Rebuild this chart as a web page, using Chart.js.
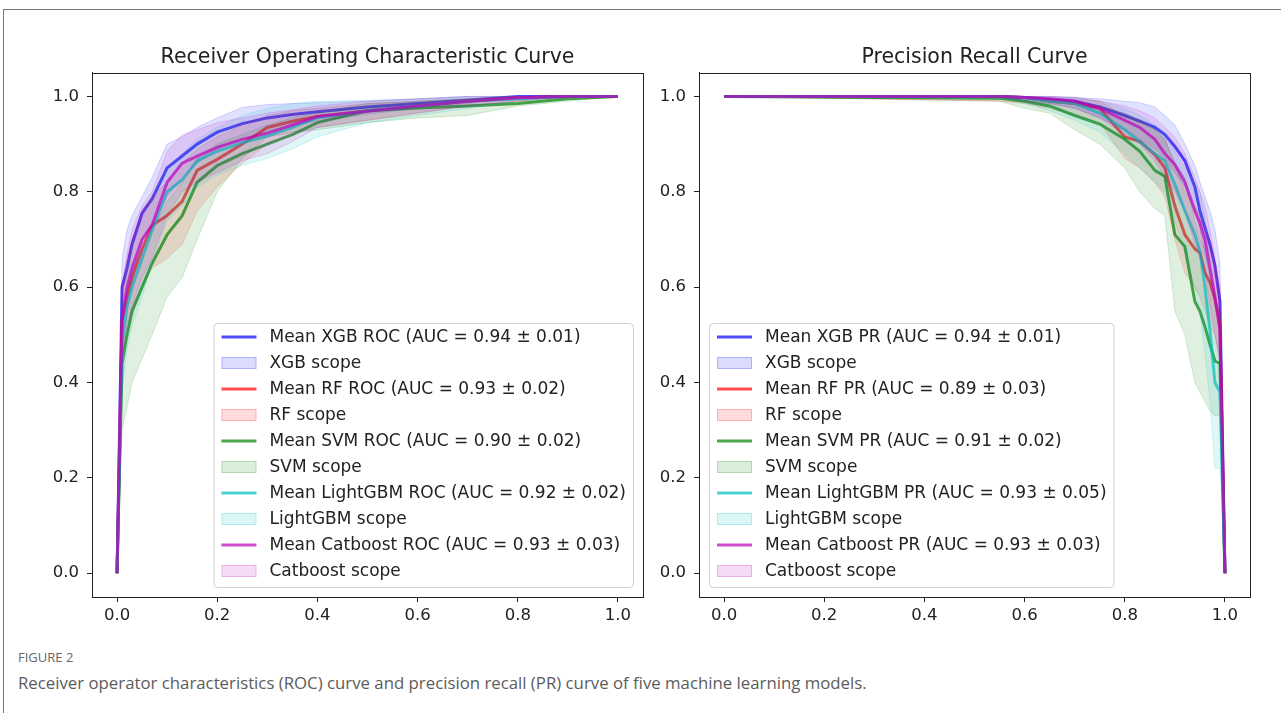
<!DOCTYPE html>
<html>
<head>
    <title>ROC and PR curves</title>
    <script src="https://cdn.jsdelivr.net/npm/chart.js"></script>
    <style>
        body {
            margin: 0;
            width: 1281px;
            height: 713px;
            overflow: hidden;
            background: #fff;
            position: relative;
        }
        .frame {
            position: absolute;
            left: 3px;
            top: 9px;
            width: 1300px;
            height: 720px;
            border-top: 1px solid #777;
            border-left: 1px solid #777;
        }
        .box {
            position: absolute;
            top: 0;
        }
        .fig {
            position: absolute;
            left: 18px;
            top: 648px;
            font-family: "Open Sans", sans-serif;
            font-size: 13px;
            color: #666;
        }
        .caption {
            position: absolute;
            left: 18px;
            top: 671px;
            font-family: "Open Sans", sans-serif;
            font-size: 16.8px;
            color: #5c5c5c;
        }
    </style>
</head>
<body>
    <div class="frame"></div>
    <div class="box" style="left:0px"><canvas id="roc" width="660" height="640"></canvas></div>
    <div class="box" style="left:607px"><canvas id="pr" width="660" height="640"></canvas></div>
    <div class="fig">FIGURE 2</div>
    <div class="caption">Receiver operator characteristics (ROC) curve and precision recall (PR) curve of five machine learning models.</div>

    <script>
        const MODELS = ['XGB', 'RF', 'SVM', 'LightGBM', 'Catboost'];
        const ROC_AUC = ['0.94 ± 0.01', '0.93 ± 0.02', '0.90 ± 0.02', '0.92 ± 0.02', '0.93 ± 0.03'];
        const PR_AUC = ['0.94 ± 0.01', '0.89 ± 0.03', '0.91 ± 0.02', '0.93 ± 0.05', '0.93 ± 0.03'];
        const TICKS = [0, 0.2, 0.4, 0.6, 0.8, 1.0];

        // ROC: false positive rate grid
        const ROC_FPR = [0, 0.01, 0.02, 0.03, 0.05, 0.07, 0.1, 0.13, 0.16, 0.2, 0.25, 0.3, 0.35, 0.4, 0.5, 0.6, 0.7, 0.8, 0.9, 1.0];

        const XGB_ROC = [0, 0.60, 0.64, 0.69, 0.755, 0.785, 0.85, 0.875, 0.90, 0.925, 0.943, 0.955, 0.962, 0.968, 0.978, 0.985, 0.992, 1.0, 1.0, 1.0];
        const XGB_ROC_HI = [0, 0.66, 0.72, 0.75, 0.79, 0.83, 0.90, 0.915, 0.935, 0.955, 0.977, 0.983, 0.985, 0.987, 0.99, 0.995, 1.0, 1.0, 1.0, 1.0];
        const XGB_ROC_LO = [0, 0.52, 0.57, 0.62, 0.70, 0.73, 0.79, 0.83, 0.86, 0.89, 0.91, 0.925, 0.94, 0.948, 0.963, 0.975, 0.985, 1.0, 1.0, 1.0];

        const RF_ROC = [0, 0.53, 0.58, 0.62, 0.68, 0.73, 0.75, 0.78, 0.845, 0.868, 0.90, 0.935, 0.948, 0.958, 0.97, 0.98, 0.99, 0.997, 1.0, 1.0];
        const RF_ROC_HI = [0, 0.60, 0.66, 0.70, 0.76, 0.79, 0.82, 0.86, 0.89, 0.915, 0.94, 0.96, 0.97, 0.975, 0.985, 0.99, 0.995, 1.0, 1.0, 1.0];
        const RF_ROC_LO = [0, 0.45, 0.50, 0.54, 0.60, 0.64, 0.66, 0.69, 0.76, 0.81, 0.86, 0.90, 0.92, 0.935, 0.95, 0.965, 0.98, 0.99, 1.0, 1.0];

        const SVM_ROC = [0, 0.44, 0.50, 0.55, 0.60, 0.65, 0.71, 0.75, 0.82, 0.855, 0.88, 0.90, 0.92, 0.945, 0.97, 0.976, 0.98, 0.985, 0.995, 1.0];
        const SVM_ROC_HI = [0, 0.50, 0.58, 0.63, 0.68, 0.72, 0.78, 0.82, 0.87, 0.90, 0.92, 0.94, 0.955, 0.965, 0.985, 0.99, 0.995, 1.0, 1.0, 1.0];
        const SVM_ROC_LO = [0, 0.30, 0.35, 0.40, 0.45, 0.50, 0.58, 0.62, 0.70, 0.80, 0.87, 0.915, 0.925, 0.93, 0.945, 0.955, 0.96, 0.98, 0.99, 1.0];

        const LGBM_ROC = [0, 0.48, 0.56, 0.60, 0.66, 0.72, 0.80, 0.825, 0.865, 0.885, 0.903, 0.917, 0.935, 0.955, 0.97, 0.98, 0.99, 0.995, 1.0, 1.0];
        const LGBM_ROC_HI = [0, 0.56, 0.64, 0.68, 0.74, 0.79, 0.85, 0.88, 0.91, 0.935, 0.96, 0.975, 0.985, 0.99, 0.992, 0.995, 1.0, 1.0, 1.0, 1.0];
        const LGBM_ROC_LO = [0, 0.38, 0.47, 0.52, 0.58, 0.65, 0.74, 0.77, 0.81, 0.835, 0.855, 0.87, 0.89, 0.915, 0.945, 0.96, 0.975, 0.99, 1.0, 1.0];

        const CAT_ROC = [0, 0.53, 0.60, 0.64, 0.70, 0.73, 0.82, 0.86, 0.875, 0.893, 0.91, 0.923, 0.94, 0.958, 0.969, 0.98, 0.99, 0.997, 1.0, 1.0];
        const CAT_ROC_HI = [0, 0.60, 0.67, 0.72, 0.77, 0.80, 0.885, 0.92, 0.93, 0.945, 0.955, 0.965, 0.972, 0.98, 0.99, 0.995, 1.0, 1.0, 1.0, 1.0];
        const CAT_ROC_LO = [0, 0.45, 0.52, 0.56, 0.62, 0.66, 0.75, 0.80, 0.82, 0.84, 0.865, 0.88, 0.905, 0.935, 0.95, 0.965, 0.98, 0.99, 1.0, 1.0];

        // PR: recall grid
        const PR_RECALL = [0, 0.55, 0.6, 0.65, 0.7, 0.75, 0.8, 0.83, 0.86, 0.88, 0.9, 0.92, 0.94, 0.95, 0.96, 0.97, 0.98, 0.99, 1.0];

        const XGB_PR = [1, 1, 0.998, 0.993, 0.99, 0.978, 0.96, 0.948, 0.935, 0.92, 0.895, 0.865, 0.81, 0.76, 0.725, 0.69, 0.645, 0.57, 0];
        const XGB_PR_HI = [1, 1, 1, 1, 0.998, 0.995, 0.99, 0.987, 0.978, 0.96, 0.94, 0.90, 0.855, 0.82, 0.79, 0.76, 0.72, 0.65, 0];
        const XGB_PR_LO = [1, 1, 0.99, 0.985, 0.975, 0.955, 0.93, 0.91, 0.89, 0.87, 0.84, 0.81, 0.76, 0.72, 0.67, 0.63, 0.58, 0.50, 0];

        const RF_PR = [1, 1, 0.998, 0.99, 0.985, 0.975, 0.915, 0.906, 0.878, 0.85, 0.77, 0.71, 0.68, 0.672, 0.63, 0.61, 0.575, 0.52, 0];
        const RF_PR_HI = [1, 1, 1, 0.998, 0.995, 0.99, 0.96, 0.95, 0.93, 0.91, 0.86, 0.80, 0.77, 0.75, 0.72, 0.69, 0.65, 0.60, 0];
        const RF_PR_LO = [1, 0.99, 0.985, 0.975, 0.96, 0.945, 0.87, 0.85, 0.82, 0.79, 0.70, 0.63, 0.60, 0.58, 0.55, 0.52, 0.50, 0.45, 0];

        const SVM_PR = [1, 0.996, 0.99, 0.98, 0.96, 0.942, 0.91, 0.885, 0.845, 0.832, 0.71, 0.685, 0.57, 0.55, 0.517, 0.48, 0.445, 0.44, 0];
        const SVM_PR_HI = [1, 1, 1, 0.995, 0.99, 0.98, 0.965, 0.95, 0.93, 0.91, 0.86, 0.83, 0.74, 0.70, 0.68, 0.62, 0.56, 0.55, 0];
        const SVM_PR_LO = [1, 0.99, 0.975, 0.965, 0.93, 0.90, 0.85, 0.80, 0.765, 0.75, 0.55, 0.50, 0.40, 0.38, 0.36, 0.34, 0.33, 0.33, 0];

        const LGBM_PR = [1, 1, 0.997, 0.99, 0.985, 0.965, 0.93, 0.905, 0.88, 0.865, 0.815, 0.76, 0.71, 0.675, 0.60, 0.51, 0.40, 0.38, 0];
        const LGBM_PR_HI = [1, 1, 1, 1, 0.998, 0.99, 0.975, 0.96, 0.94, 0.925, 0.885, 0.85, 0.82, 0.80, 0.74, 0.66, 0.58, 0.54, 0];
        const LGBM_PR_LO = [1, 0.995, 0.985, 0.97, 0.95, 0.925, 0.88, 0.85, 0.82, 0.80, 0.74, 0.67, 0.60, 0.55, 0.46, 0.36, 0.22, 0.22, 0];

        const CAT_PR = [1, 1, 0.998, 0.995, 0.99, 0.975, 0.95, 0.935, 0.91, 0.88, 0.857, 0.82, 0.76, 0.735, 0.70, 0.64, 0.58, 0.51, 0];
        const CAT_PR_HI = [1, 1, 1, 1, 0.998, 0.99, 0.98, 0.97, 0.955, 0.935, 0.915, 0.88, 0.83, 0.80, 0.77, 0.72, 0.66, 0.58, 0];
        const CAT_PR_LO = [1, 1, 0.99, 0.985, 0.975, 0.955, 0.92, 0.90, 0.865, 0.83, 0.80, 0.76, 0.69, 0.67, 0.63, 0.56, 0.50, 0.44, 0];

        const COLORS = [[0, 0, 255], [255, 0, 0], [0, 128, 0], [0, 191, 191], [191, 0, 191]];

        function rgba(c, a) {
            return `rgba(${c[0]}, ${c[1]}, ${c[2]}, ${a})`;
        }

        function pts(xs, ys) {
            return xs.map((x, i) => ({ x: x, y: ys[i] }));
        }

        // lower edge, upper edge (filled to lower), mean line, for each model
        function buildDatasets(xs, series) {
            const ds = [];
            series.forEach((s, i) => {
                const c = COLORS[i];
                ds.push({ data: pts(xs, s[1]), borderColor: rgba(c, 0.16), borderWidth: 1, fill: false });
                ds.push({ data: pts(xs, s[2]), borderColor: rgba(c, 0.16), borderWidth: 1, backgroundColor: rgba(c, 0.12), fill: '-1' });
                ds.push({ data: pts(xs, s[0]), borderColor: rgba(c, 0.7), borderWidth: 3, fill: false });
            });
            ds.forEach((d, i) => {
                d.order = 100 - i;
                d.pointRadius = 0;
                d.tension = 0;
            });
            return ds;
        }

        function legendItems(kind, auc) {
            const items = [];
            MODELS.forEach((m, i) => {
                items.push({ line: true, color: COLORS[i], text: `Mean ${m} ${kind} (AUC = ${auc[i]})` });
                items.push({ line: false, color: COLORS[i], text: `${m} scope` });
            });
            return items;
        }

        const frameBox = {
            id: 'frameBox',
            afterDraw(chart) {
                const a = chart.chartArea, ctx = chart.ctx;
                ctx.save();
                ctx.strokeStyle = '#222';
                ctx.lineWidth = 1;
                ctx.strokeRect(Math.round(a.left) + 0.5, Math.round(a.top) + 0.5, Math.round(a.right - a.left), Math.round(a.bottom - a.top));
                ctx.restore();
            }
        };

        const legendBox = {
            id: 'legendBox',
            afterDraw(chart, args, opts) {
                const ctx = chart.ctx, a = chart.chartArea;
                const items = opts.items;
                ctx.save();
                ctx.font = '17px "DejaVu Sans", sans-serif';
                let w = 0;
                items.forEach(it => { w = Math.max(w, ctx.measureText(it.text).width); });
                const rowH = 26;
                const bw = 56 + w + 7;
                const bh = 14 + rowH * (items.length - 1) + 16;
                const left = opts.side === 'right' ? a.right - 10 - bw : a.left + 10;
                const top = a.bottom - 10 - bh;
                ctx.beginPath();
                ctx.roundRect(left + 0.5, top + 0.5, bw, bh, 4);
                ctx.fillStyle = 'rgba(255,255,255,0.85)';
                ctx.fill();
                ctx.strokeStyle = '#d0d0d0';
                ctx.lineWidth = 1;
                ctx.stroke();
                items.forEach((it, i) => {
                    const cy = top + 14 + i * rowH;
                    if (it.line) {
                        ctx.strokeStyle = rgba(it.color, 0.7);
                        ctx.lineWidth = 3;
                        ctx.beginPath();
                        ctx.moveTo(left + 8, cy);
                        ctx.lineTo(left + 43, cy);
                        ctx.stroke();
                    } else {
                        ctx.fillStyle = rgba(it.color, 0.14);
                        ctx.fillRect(left + 8, cy - 6, 35, 12);
                        ctx.strokeStyle = rgba(it.color, 0.2);
                        ctx.lineWidth = 1;
                        ctx.strokeRect(left + 8.5, cy - 5.5, 34, 11);
                    }
                    ctx.fillStyle = '#222';
                    ctx.textBaseline = 'middle';
                    ctx.fillText(it.text, left + 56, cy + 1);
                });
                ctx.restore();
            }
        };

        Chart.defaults.font.family = '"DejaVu Sans", sans-serif';
        Chart.defaults.color = '#222';

        function axis(horizontal) {
            return {
                type: 'linear',
                min: -0.05,
                max: 1.05,
                afterBuildTicks: s => { s.ticks = TICKS.map(v => ({ value: v })); },
                afterFit: s => { if (horizontal) s.height = 43; else s.width = 92; },
                ticks: {
                    callback: v => v.toFixed(1),
                    font: { size: 16.5 },
                    color: '#222',
                    padding: horizontal ? 4 : 8,
                    maxRotation: 0
                },
                grid: { drawOnChartArea: false, tickLength: 5, color: '#222' },
                border: { color: '#222', width: 1 }
            };
        }

        function makeChart(id, title, xs, series, items, side) {
            new Chart(document.getElementById(id), {
                type: 'line',
                data: { datasets: buildDatasets(xs, series) },
                options: {
                    responsive: false,
                    animation: false,
                    devicePixelRatio: 1,
                    layout: { padding: { left: 0, right: 17, top: 0, bottom: 0 } },
                    scales: { x: axis(true), y: axis(false) },
                    plugins: {
                        legend: { display: false },
                        tooltip: { enabled: false },
                        title: {
                            display: true,
                            text: title,
                            fullSize: false,
                            color: '#222',
                            font: { size: 20.5, weight: 'normal' },
                            padding: { top: 45, bottom: 3 }
                        },
                        legendBox: { items: items, side: side }
                    }
                },
                plugins: [frameBox, legendBox]
            });
        }

        makeChart('roc', 'Receiver Operating Characteristic Curve', ROC_FPR, [
            [XGB_ROC, XGB_ROC_LO, XGB_ROC_HI],
            [RF_ROC, RF_ROC_LO, RF_ROC_HI],
            [SVM_ROC, SVM_ROC_LO, SVM_ROC_HI],
            [LGBM_ROC, LGBM_ROC_LO, LGBM_ROC_HI],
            [CAT_ROC, CAT_ROC_LO, CAT_ROC_HI]
        ], legendItems('ROC', ROC_AUC), 'right');

        makeChart('pr', 'Precision Recall Curve', PR_RECALL, [
            [XGB_PR, XGB_PR_LO, XGB_PR_HI],
            [RF_PR, RF_PR_LO, RF_PR_HI],
            [SVM_PR, SVM_PR_LO, SVM_PR_HI],
            [LGBM_PR, LGBM_PR_LO, LGBM_PR_HI],
            [CAT_PR, CAT_PR_LO, CAT_PR_HI]
        ], legendItems('PR', PR_AUC), 'left');
    </script>
</body>
</html>
